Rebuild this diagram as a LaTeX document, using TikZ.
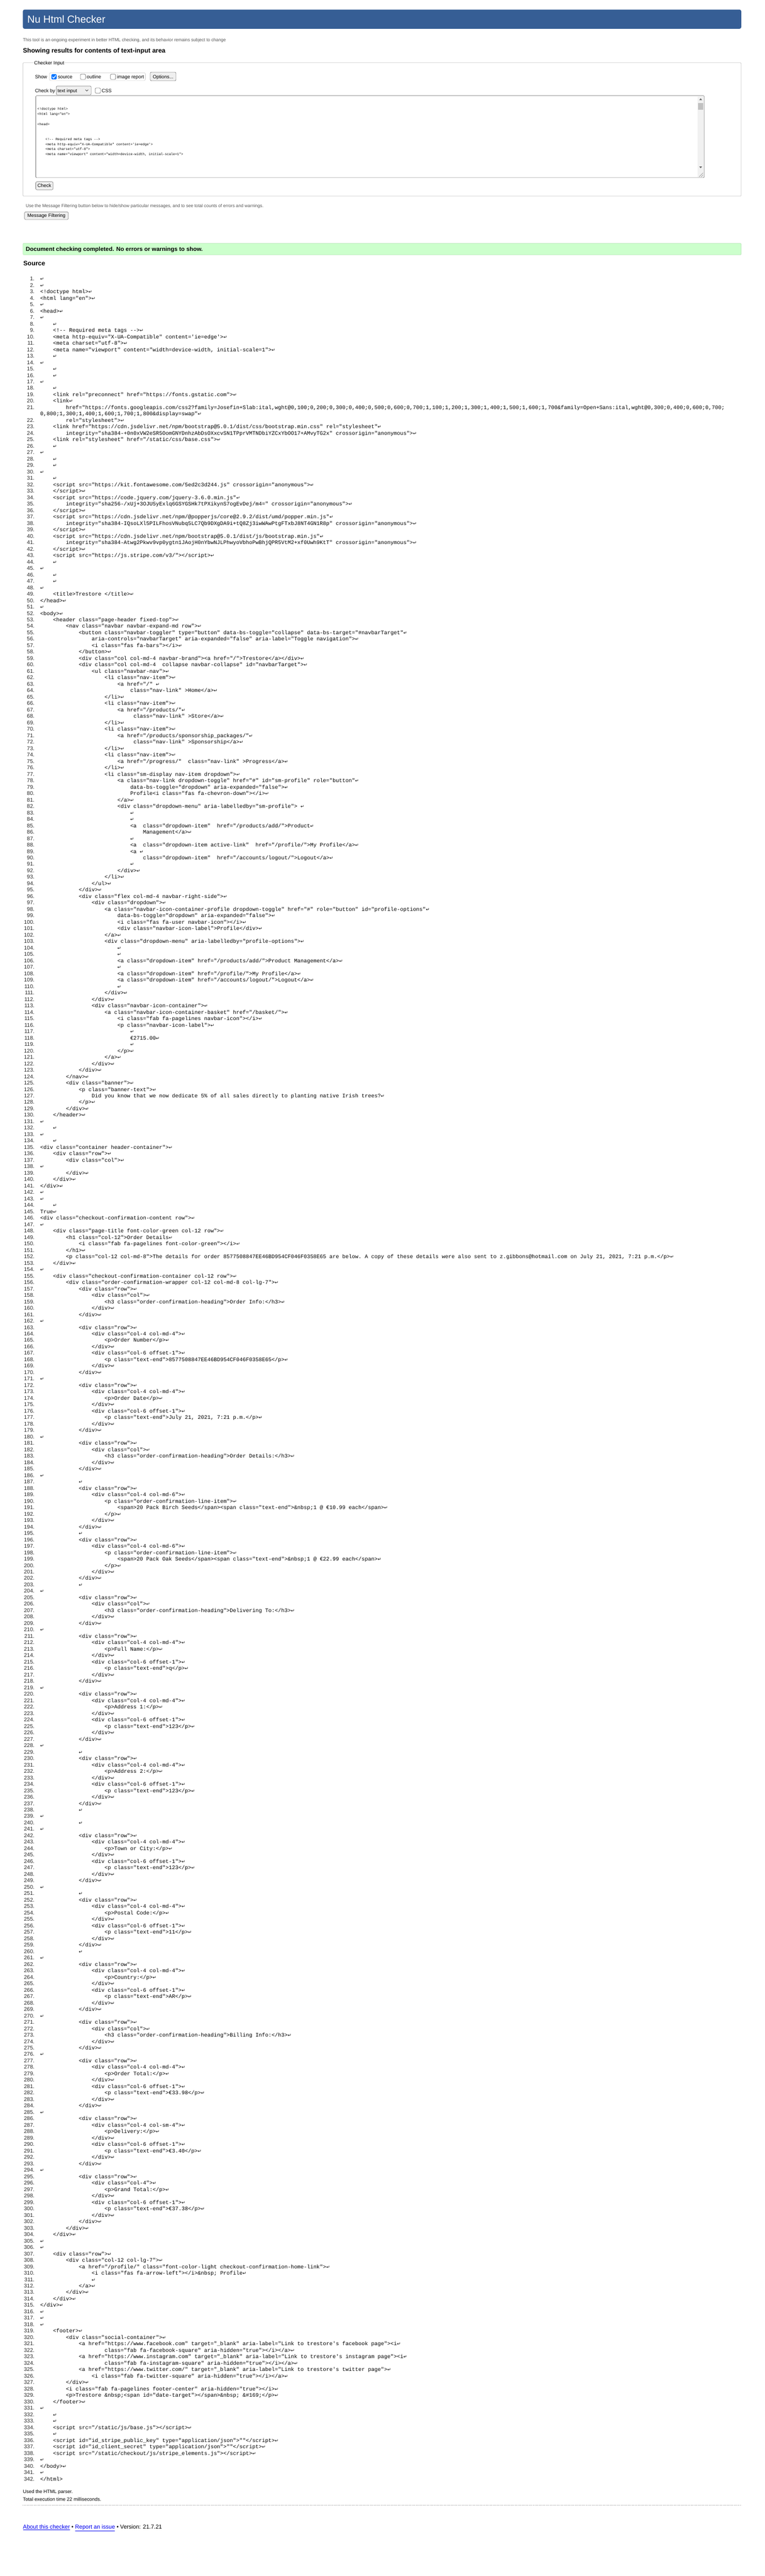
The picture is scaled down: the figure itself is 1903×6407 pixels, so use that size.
\documentclass[tikz,border=0pt]{standalone}
\usepackage{fontspec}
\setmainfont{Liberation Sans}
\setmonofont{Liberation Mono}
\newfontfamily\retfont{DejaVu Sans}
\definecolor{hdrblue}{RGB}{54,94,149}
\definecolor{softgray}{RGB}{85,85,85}
\definecolor{fsborder}{RGB}{204,204,204}
\definecolor{btnfill}{RGB}{239,239,239}
\definecolor{btnborder}{RGB}{118,118,118}
\definecolor{okfill}{RGB}{204,255,204}
\definecolor{okborder}{RGB}{170,210,170}
\definecolor{chkblue}{RGB}{0,117,255}
\definecolor{linkblue}{RGB}{0,0,238}
\definecolor{sbtrack}{RGB}{241,241,241}
\definecolor{sbthumb}{RGB}{193,193,193}
\newcommand\ret{{\retfont\fontsize{11}{11}\selectfont\symbol{"21B5}}}
\newcommand\SL[3]{\pgfmathsetmacro\yy{698+16*(#1-1)+(#1>21)*16}%
  \node[lnum] (ln#1) at (86,\yy) {#1.};%
  \node[code] (cd#1) at ({100+8*#2},\yy) {#3\ret};}
\newcommand\SLe[3]{\pgfmathsetmacro\yy{698+16*(#1-1)+(#1>21)*16}%
  \node[lnum] (ln#1) at (86,\yy) {#1.};%
  \node[code] (cd#1) at ({100+8*#2},\yy) {#3};}
\tikzset{
  lnum/.style={anchor=base east, inner sep=0pt, font=\fontsize{13.33}{16}\selectfont, text=black!85},
  code/.style={anchor=base west, inner sep=0pt, font=\ttfamily\fontsize{13.33}{16}\selectfont},
  ta/.style={anchor=base west, inner sep=0pt, font=\ttfamily\fontsize{8.4}{10}\selectfont},
  ui/.style={anchor=base west, inner sep=0pt, font=\fontsize{12}{14}\selectfont},
  btn/.style={draw=btnborder, fill=btnfill, rounded corners=3pt, line width=0.8pt},
  cbox/.style={draw=black!60, fill=white, rounded corners=2pt, line width=0.8pt},
  small/.style={anchor=base west, inner sep=0pt, text=softgray, font=\fontsize{11}{13}\selectfont},
  stat/.style={anchor=base west, inner sep=0pt, font=\fontsize{12}{14}\selectfont},
}
\begin{document}
\begin{tikzpicture}[x=1pt,y=-1pt]
\useasboundingbox (0,0) rectangle (1903,6407);
\fill[white] (0,0) rectangle (1903,6407);
% header
\fill[hdrblue, rounded corners=4pt] (57,24) rectangle (1845,71.5);
\node[anchor=base west, inner sep=0pt, text=white, font=\fontsize{25.5}{30}\selectfont] (title) at (68,57.5) {Nu Html Checker};
\node[small] (intro) at (57,103) {This tool is an ongoing experiment in better HTML checking, and its behavior remains subject to change};
\node[anchor=base west, inner sep=0pt, font=\bfseries\fontsize{16}{19}\selectfont] (showing) at (57,131) {Showing results for contents of text-input area};
% fieldset
\draw[fsborder, line width=1pt, rounded corners=2pt] (57,156) rectangle (1845,488);
\node[anchor=base west, fill=white, inner xsep=2pt, inner ysep=1pt, font=\fontsize{12}{14}\selectfont] (legend) at (83,161) {Checker Input};
\node[ui] (show) at (87,195) {Show};
\draw[fsborder, rounded corners=3pt, line width=0.8pt] (123,181) rectangle (362,200);
\fill[chkblue, rounded corners=2pt] (128,184.5) rectangle (141,197.5);
\draw[white, line width=1.6pt] (130.5,191) -- (133.5,194.5) -- (139,187.5);
\node[ui] (srcopt) at (144,195) {source};
\draw[cbox] (200,184.5) rectangle (213,197.5);
\node[ui] (outopt) at (216,195) {outline};
\draw[cbox] (275,184.5) rectangle (288,197.5);
\node[ui] (imgopt) at (291,195) {image report};
\draw[btn] (374,179.5) rectangle (438,201);
\node[ui, anchor=base] (options) at (406,195) {Options...};
\node[ui] (checkby) at (87,230) {Check by};
\draw[btn] (140,214) rectangle (227,236);
\node[ui] (seltext) at (143,230) {text input};
\draw[black!80, line width=0.9pt] (212.5,223) -- (216,226.5) -- (219.5,223);
\draw[cbox] (237,219) rectangle (250,232);
\node[ui] (cssopt) at (253,230) {CSS};
% textarea
\draw[black!55, rounded corners=2pt, line width=0.8pt] (89,238) rectangle (1753,442);
\fill[sbtrack] (1736,239) rectangle (1752,441);
\fill[black!60] (1740.5,249) -- (1744,244.5) -- (1747.5,249) -- cycle;
\fill[sbthumb] (1737.5,256) rectangle (1750.5,273);
\fill[black!60] (1740.5,414) -- (1744,418.5) -- (1747.5,414) -- cycle;
\draw[black!50, line width=0.7pt] (1750,430) -- (1740,440) (1750,435) -- (1745,440);
\node[ta] (ta3) at (93,274) {<!doctype html>};
\node[ta] (ta4) at (93,286.5) {<html lang="en">};
\node[ta] (ta6) at (93,311.5) {<head>};
\node[ta] (ta9) at (113,349) {<!-- Required meta tags -->};
\node[ta] (ta10) at (113,361.5) {<meta http-equiv="X-UA-Compatible" content='ie=edge'>};
\node[ta] (ta11) at (113,374) {<meta charset="utf-8">};
\node[ta] (ta12) at (113,386.5) {<meta name="viewport" content="width=device-width, initial-scale=1">};
\draw[btn] (89,452) rectangle (132,472);
\node[ui, anchor=base] (checkbtn) at (110.5,466) {Check};
% filtering
\node[small] (filtertxt) at (64,516) {Use the Message Filtering button below to hide/show particular messages, and to see total counts of errors and warnings.};
\draw[btn] (61,527) rectangle (170,546);
\node[ui, anchor=base] (filterbtn) at (115.5,540.5) {Message Filtering};
% success
\draw[okborder, fill=okfill, rounded corners=2pt] (57,605) rectangle (1845,634);
\node[anchor=base west, inner sep=0pt, font=\bfseries\fontsize{14.6}{17}\selectfont] (okmsg) at (64,625) {Document checking completed. No errors or warnings to show.};
\node[anchor=base west, inner sep=0pt, font=\bfseries\fontsize{16}{19}\selectfont] (sourcehd) at (58,661) {Source};
% source listing
\SL{1}{0}{}
\SL{2}{0}{}
\SL{3}{0}{<!doctype html>}
\SL{4}{0}{<html lang="en">}
\SL{5}{0}{}
\SL{6}{0}{<head>}
\SL{7}{0}{}
\SL{8}{4}{}
\SL{9}{4}{<!-- Required meta tags -->}
\SL{10}{4}{<meta http-equiv="X-UA-Compatible" content='ie=edge'>}
\SL{11}{4}{<meta charset="utf-8">}
\SL{12}{4}{<meta name="viewport" content="width=device-width, initial-scale=1">}
\SL{13}{4}{}
\SL{14}{0}{}
\SL{15}{4}{}
\SL{16}{4}{}
\SL{17}{0}{}
\SL{18}{4}{}
\SL{19}{4}{<link rel="preconnect" href="https://fonts.gstatic.com">}
\SL{20}{4}{<link}
\node[lnum] (ln21) at (86,1018) {21.};
\node[code] (cd21) at (164,1018) {href="https://fonts.googleapis.com/css2?family=Josefin+Slab:ital,wght@0,100;0,200;0,300;0,400;0,500;0,600;0,700;1,100;1,200;1,300;1,400;1,500;1,600;1,700\&family=Open+Sans:ital,wght@0,300;0,400;0,600;0,700;};
\node[code] (cd21b) at (100,1034) {0,800;1,300;1,400;1,600;1,700;1,800\&display=swap"\ret};
\SL{22}{8}{rel="stylesheet">}
\SL{23}{4}{<link href="https://cdn.jsdelivr.net/npm/bootstrap@5.0.1/dist/css/bootstrap.min.css" rel="stylesheet"}
\SL{24}{8}{integrity="sha384-+0n0xVW2eSR5OomGNYDnhzAbDsOXxcvSN1TPprVMTNDbiYZCxYbOO17+AMvyTG2x" crossorigin="anonymous">}
\SL{25}{4}{<link rel="stylesheet" href="/static/css/base.css">}
\SL{26}{4}{}
\SL{27}{0}{}
\SL{28}{4}{}
\SL{29}{4}{}
\SL{30}{0}{}
\SL{31}{4}{}
\SL{32}{4}{<script src="https://kit.fontawesome.com/5ed2c3d244.js" crossorigin="anonymous">}
\SL{33}{4}{</script>}
\SL{34}{4}{<script src="https://code.jquery.com/jquery-3.6.0.min.js"}
\SL{35}{8}{integrity="sha256-/xUj+3OJU5yExlq6GSYGSHk7tPXikynS7ogEvDej/m4=" crossorigin="anonymous">}
\SL{36}{4}{</script>}
\SL{37}{4}{<script src="https://cdn.jsdelivr.net/npm/@popperjs/core@2.9.2/dist/umd/popper.min.js"}
\SL{38}{8}{integrity="sha384-IQsoLXl5PILFhosVNubq5LC7Qb9DXgDA9i+tQ8Zj3iwWAwPtgFTxbJ8NT4GN1R8p" crossorigin="anonymous">}
\SL{39}{4}{</script>}
\SL{40}{4}{<script src="https://cdn.jsdelivr.net/npm/bootstrap@5.0.1/dist/js/bootstrap.min.js"}
\SL{41}{8}{integrity="sha384-Atwg2Pkwv9vp0ygtn1JAojH0nYbwNJLPhwyoVbhoPwBhjQPR5VtM2+xf0Uwh9KtT" crossorigin="anonymous">}
\SL{42}{4}{</script>}
\SL{43}{4}{<script src="https://js.stripe.com/v3/"></script>}
\SL{44}{4}{}
\SL{45}{0}{}
\SL{46}{4}{}
\SL{47}{4}{}
\SL{48}{0}{}
\SL{49}{4}{<title>Trestore </title>}
\SL{50}{0}{</head>}
\SL{51}{0}{}
\SL{52}{0}{<body>}
\SL{53}{4}{<header class="page-header fixed-top">}
\SL{54}{8}{<nav class="navbar navbar-expand-md row">}
\SL{55}{12}{<button class="navbar-toggler" type="button" data-bs-toggle="collapse" data-bs-target="\#navbarTarget"}
\SL{56}{16}{aria-controls="navbarTarget" aria-expanded="false" aria-label="Toggle navigation">}
\SL{57}{16}{<i class="fas fa-bars"></i>}
\SL{58}{12}{</button>}
\SL{59}{12}{<div class="col col-md-4 navbar-brand"><a href="/">Trestore</a></div>}
\SL{60}{12}{<div class="col col-md-4\ \ collapse navbar-collapse" id="navbarTarget">}
\SL{61}{16}{<ul class="navbar-nav">}
\SL{62}{20}{<li class="nav-item">}
\SL{63}{24}{<a href="/"\ }
\SL{64}{28}{class="nav-link" >Home</a>}
\SL{65}{20}{</li>}
\SL{66}{20}{<li class="nav-item">}
\SL{67}{24}{<a href="/products/"}
\SL{68}{29}{class="nav-link" >Store</a>}
\SL{69}{20}{</li>}
\SL{70}{20}{<li class="nav-item">}
\SL{71}{24}{<a href="/products/sponsorship\_packages/"}
\SL{72}{29}{class="nav-link" >Sponsorship</a>}
\SL{73}{20}{</li>}
\SL{74}{20}{<li class="nav-item">}
\SL{75}{24}{<a href="/progress/"\ \ class="nav-link" >Progress</a>}
\SL{76}{20}{</li>}
\SL{77}{20}{<li class="sm-display nav-item dropdown">}
\SL{78}{24}{<a class="nav-link dropdown-toggle" href="\#" id="sm-profile" role="button"}
\SL{79}{28}{data-bs-toggle="dropdown" aria-expanded="false">}
\SL{80}{28}{Profile<i class="fas fa-chevron-down"></i>}
\SL{81}{24}{</a>}
\SL{82}{24}{<div class="dropdown-menu" aria-labelledby="sm-profile">\ }
\SL{83}{28}{}
\SL{84}{28}{}
\SL{85}{28}{<a\ \ class="dropdown-item"\ \ href="/products/add/">Product}
\SL{86}{32}{Management</a>}
\SL{87}{28}{}
\SL{88}{28}{<a\ \ class="dropdown-item active-link"\ \ href="/profile/">My Profile</a>}
\SL{89}{28}{<a\ }
\SL{90}{32}{class="dropdown-item"\ \ href="/accounts/logout/">Logout</a>}
\SL{91}{28}{}
\SL{92}{24}{</div>}
\SL{93}{20}{</li>}
\SL{94}{16}{</ul>}
\SL{95}{12}{</div>}
\SL{96}{12}{<div class="flex col-md-4 navbar-right-side">}
\SL{97}{16}{<div class="dropdown">}
\SL{98}{20}{<a class="navbar-icon-container-profile dropdown-toggle" href="\#" role="button" id="profile-options"}
\SL{99}{24}{data-bs-toggle="dropdown" aria-expanded="false">}
\SL{100}{24}{<i class="fas fa-user navbar-icon"></i>}
\SL{101}{24}{<div class="navbar-icon-label">Profile</div>}
\SL{102}{20}{</a>}
\SL{103}{20}{<div class="dropdown-menu" aria-labelledby="profile-options">}
\SL{104}{24}{}
\SL{105}{24}{}
\SL{106}{24}{<a class="dropdown-item" href="/products/add/">Product Management</a>}
\SL{107}{24}{}
\SL{108}{24}{<a class="dropdown-item" href="/profile/">My Profile</a>}
\SL{109}{24}{<a class="dropdown-item" href="/accounts/logout/">Logout</a>}
\SL{110}{24}{}
\SL{111}{20}{</div>}
\SL{112}{16}{</div>}
\SL{113}{16}{<div class="navbar-icon-container">}
\SL{114}{20}{<a class="navbar-icon-container-basket" href="/basket/">}
\SL{115}{24}{<i class="fab fa-pagelines navbar-icon"></i>}
\SL{116}{24}{<p class="navbar-icon-label">}
\SL{117}{28}{}
\SL{118}{28}{€2715.00}
\SL{119}{28}{}
\SL{120}{24}{</p>}
\SL{121}{20}{</a>}
\SL{122}{16}{</div>}
\SL{123}{12}{</div>}
\SL{124}{8}{</nav>}
\SL{125}{8}{<div class="banner">}
\SL{126}{12}{<p class="banner-text">}
\SL{127}{16}{Did you know that we now dedicate 5\% of all sales directly to planting native Irish trees?}
\SL{128}{12}{</p>}
\SL{129}{8}{</div>}
\SL{130}{4}{</header>}
\SL{131}{0}{}
\SL{132}{4}{}
\SL{133}{0}{}
\SL{134}{4}{}
\SL{135}{0}{<div class="container header-container">}
\SL{136}{4}{<div class="row">}
\SL{137}{8}{<div class="col">}
\SL{138}{0}{}
\SL{139}{8}{</div>}
\SL{140}{4}{</div>}
\SL{141}{0}{</div>}
\SL{142}{0}{}
\SL{143}{0}{}
\SL{144}{4}{}
\SL{145}{0}{True}
\SL{146}{0}{<div class="checkout-confirmation-content row">}
\SL{147}{0}{}
\SL{148}{4}{<div class="page-title font-color-green col-12 row">}
\SL{149}{8}{<h1 class="col-12">Order Details}
\SL{150}{12}{<i class="fab fa-pagelines font-color-green"></i>}
\SL{151}{8}{</h1>}
\SL{152}{8}{<p class="col-12 col-md-8">The details for order 8577508847EE46BD954CF046F0358E65 are below. A copy of these details were also sent to z.gibbons@hotmail.com on July 21, 2021, 7:21 p.m.</p>}
\SL{153}{4}{</div>}
\SL{154}{0}{}
\SL{155}{4}{<div class="checkout-confirmation-container col-12 row">}
\SL{156}{8}{<div class="order-confirmation-wrapper col-12 col-md-8 col-lg-7">}
\SL{157}{12}{<div class="row">}
\SL{158}{16}{<div class="col">}
\SL{159}{20}{<h3 class="order-confirmation-heading">Order Info:</h3>}
\SL{160}{16}{</div>}
\SL{161}{12}{</div>}
\SL{162}{0}{}
\SL{163}{12}{<div class="row">}
\SL{164}{16}{<div class="col-4 col-md-4">}
\SL{165}{20}{<p>Order Number</p>}
\SL{166}{16}{</div>}
\SL{167}{16}{<div class="col-6 offset-1">}
\SL{168}{20}{<p class="text-end">8577508847EE46BD954CF046F0358E65</p>}
\SL{169}{16}{</div>}
\SL{170}{12}{</div>}
\SL{171}{0}{}
\SL{172}{12}{<div class="row">}
\SL{173}{16}{<div class="col-4 col-md-4">}
\SL{174}{20}{<p>Order Date</p>}
\SL{175}{16}{</div>}
\SL{176}{16}{<div class="col-6 offset-1">}
\SL{177}{20}{<p class="text-end">July 21, 2021, 7:21 p.m.</p>}
\SL{178}{16}{</div>}
\SL{179}{12}{</div>}
\SL{180}{0}{}
\SL{181}{12}{<div class="row">}
\SL{182}{16}{<div class="col">}
\SL{183}{20}{<h3 class="order-confirmation-heading">Order Details:</h3>}
\SL{184}{16}{</div>}
\SL{185}{12}{</div>}
\SL{186}{0}{}
\SL{187}{12}{}
\SL{188}{12}{<div class="row">}
\SL{189}{16}{<div class="col-4 col-md-6">}
\SL{190}{20}{<p class="order-confirmation-line-item">}
\SL{191}{24}{<span>20 Pack Birch Seeds</span><span class="text-end">\&nbsp;1 @ €10.99 each</span>}
\SL{192}{20}{</p>}
\SL{193}{16}{</div>}
\SL{194}{12}{</div>}
\SL{195}{12}{}
\SL{196}{12}{<div class="row">}
\SL{197}{16}{<div class="col-4 col-md-6">}
\SL{198}{20}{<p class="order-confirmation-line-item">}
\SL{199}{24}{<span>20 Pack Oak Seeds</span><span class="text-end">\&nbsp;1 @ €22.99 each</span>}
\SL{200}{20}{</p>}
\SL{201}{16}{</div>}
\SL{202}{12}{</div>}
\SL{203}{12}{}
\SL{204}{0}{}
\SL{205}{12}{<div class="row">}
\SL{206}{16}{<div class="col">}
\SL{207}{20}{<h3 class="order-confirmation-heading">Delivering To:</h3>}
\SL{208}{16}{</div>}
\SL{209}{12}{</div>}
\SL{210}{0}{}
\SL{211}{12}{<div class="row">}
\SL{212}{16}{<div class="col-4 col-md-4">}
\SL{213}{20}{<p>Full Name:</p>}
\SL{214}{16}{</div>}
\SL{215}{16}{<div class="col-6 offset-1">}
\SL{216}{20}{<p class="text-end">q</p>}
\SL{217}{16}{</div>}
\SL{218}{12}{</div>}
\SL{219}{0}{}
\SL{220}{12}{<div class="row">}
\SL{221}{16}{<div class="col-4 col-md-4">}
\SL{222}{20}{<p>Address 1:</p>}
\SL{223}{16}{</div>}
\SL{224}{16}{<div class="col-6 offset-1">}
\SL{225}{20}{<p class="text-end">123</p>}
\SL{226}{16}{</div>}
\SL{227}{12}{</div>}
\SL{228}{0}{}
\SL{229}{12}{}
\SL{230}{12}{<div class="row">}
\SL{231}{16}{<div class="col-4 col-md-4">}
\SL{232}{20}{<p>Address 2:</p>}
\SL{233}{16}{</div>}
\SL{234}{16}{<div class="col-6 offset-1">}
\SL{235}{20}{<p class="text-end">123</p>}
\SL{236}{16}{</div>}
\SL{237}{12}{</div>}
\SL{238}{12}{}
\SL{239}{0}{}
\SL{240}{12}{}
\SL{241}{0}{}
\SL{242}{12}{<div class="row">}
\SL{243}{16}{<div class="col-4 col-md-4">}
\SL{244}{20}{<p>Town or City:</p>}
\SL{245}{16}{</div>}
\SL{246}{16}{<div class="col-6 offset-1">}
\SL{247}{20}{<p class="text-end">123</p>}
\SL{248}{16}{</div>}
\SL{249}{12}{</div>}
\SL{250}{0}{}
\SL{251}{12}{}
\SL{252}{12}{<div class="row">}
\SL{253}{16}{<div class="col-4 col-md-4">}
\SL{254}{20}{<p>Postal Code:</p>}
\SL{255}{16}{</div>}
\SL{256}{16}{<div class="col-6 offset-1">}
\SL{257}{20}{<p class="text-end">11</p>}
\SL{258}{16}{</div>}
\SL{259}{12}{</div>}
\SL{260}{12}{}
\SL{261}{0}{}
\SL{262}{12}{<div class="row">}
\SL{263}{16}{<div class="col-4 col-md-4">}
\SL{264}{20}{<p>Country:</p>}
\SL{265}{16}{</div>}
\SL{266}{16}{<div class="col-6 offset-1">}
\SL{267}{20}{<p class="text-end">AR</p>}
\SL{268}{16}{</div>}
\SL{269}{12}{</div>}
\SL{270}{0}{}
\SL{271}{12}{<div class="row">}
\SL{272}{16}{<div class="col">}
\SL{273}{20}{<h3 class="order-confirmation-heading">Billing Info:</h3>}
\SL{274}{16}{</div>}
\SL{275}{12}{</div>}
\SL{276}{0}{}
\SL{277}{12}{<div class="row">}
\SL{278}{16}{<div class="col-4 col-md-4">}
\SL{279}{20}{<p>Order Total:</p>}
\SL{280}{16}{</div>}
\SL{281}{16}{<div class="col-6 offset-1">}
\SL{282}{20}{<p class="text-end">€33.98</p>}
\SL{283}{16}{</div>}
\SL{284}{12}{</div>}
\SL{285}{0}{}
\SL{286}{12}{<div class="row">}
\SL{287}{16}{<div class="col-4 col-sm-4">}
\SL{288}{20}{<p>Delivery:</p>}
\SL{289}{16}{</div>}
\SL{290}{16}{<div class="col-6 offset-1">}
\SL{291}{20}{<p class="text-end">€3.40</p>}
\SL{292}{16}{</div>}
\SL{293}{12}{</div>}
\SL{294}{0}{}
\SL{295}{12}{<div class="row">}
\SL{296}{16}{<div class="col-4">}
\SL{297}{20}{<p>Grand Total:</p>}
\SL{298}{16}{</div>}
\SL{299}{16}{<div class="col-6 offset-1">}
\SL{300}{20}{<p class="text-end">€37.38</p>}
\SL{301}{16}{</div>}
\SL{302}{12}{</div>}
\SL{303}{8}{</div>}
\SL{304}{4}{</div>}
\SL{305}{0}{}
\SL{306}{0}{}
\SL{307}{4}{<div class="row">}
\SL{308}{8}{<div class="col-12 col-lg-7">}
\SL{309}{12}{<a href="/profile/" class="font-color-light checkout-confirmation-home-link">}
\SL{310}{16}{<i class="fas fa-arrow-left"></i>\&nbsp; Profile}
\SL{311}{16}{}
\SL{312}{12}{</a>}
\SL{313}{8}{</div>}
\SL{314}{4}{</div>}
\SL{315}{0}{</div>}
\SL{316}{0}{}
\SL{317}{0}{}
\SL{318}{0}{}
\SL{319}{4}{<footer>}
\SL{320}{8}{<div class="social-container">}
\SL{321}{12}{<a href="https://www.facebook.com" target="\_blank" aria-label="Link to trestore's facebook page"><i}
\SL{322}{20}{class="fab fa-facebook-square" aria-hidden="true"></i></a>}
\SL{323}{12}{<a href="https://www.instagram.com" target="\_blank" aria-label="Link to trestore's instagram page"><i}
\SL{324}{20}{class="fab fa-instagram-square" aria-hidden="true"></i></a>}
\SL{325}{12}{<a href="https://www.twitter.com/" target="\_blank" aria-label="Link to trestore's twitter page">}
\SL{326}{16}{<i class="fab fa-twitter-square" aria-hidden="true"></i></a>}
\SL{327}{8}{</div>}
\SL{328}{8}{<i class="fab fa-pagelines footer-center" aria-hidden="true"></i>}
\SL{329}{8}{<p>Trestore \&nbsp;<span id="date-target"></span>\&nbsp; \&\#169;</p>}
\SL{330}{4}{</footer>}
\SL{331}{0}{}
\SL{332}{4}{}
\SL{333}{4}{}
\SL{334}{4}{<script src="/static/js/base.js"></script>}
\SL{335}{4}{}
\SL{336}{4}{<script id="id\_stripe\_public\_key" type="application/json">""</script>}
\SL{337}{4}{<script id="id\_client\_secret" type="application/json">""</script>}
\SL{338}{4}{<script src="/static/checkout/js/stripe\_elements.js"></script>}
\SL{339}{0}{}
\SL{340}{0}{</body>}
\SL{341}{0}{}
\SLe{342}{0}{</html>}
% footer
\node[stat] (parser) at (57,6201) {Used the HTML parser.};
\node[stat] (exectime) at (57,6221) {Total execution time 22 milliseconds.};
\coordinate (hrl) at (57,6231);
\coordinate (hrr) at (1845,6231);
\draw[black!45, dotted, line width=1pt] (hrl) -- (hrr);
\node[anchor=base west, inner sep=0pt, font=\fontsize{14.2}{17}\selectfont] (about) at (57,6290) {\textcolor{linkblue}{\underline{About this checker}} • \textcolor{linkblue}{\underline{Report an issue}} • Version: 21.7.21};
\end{tikzpicture}
\end{document}
